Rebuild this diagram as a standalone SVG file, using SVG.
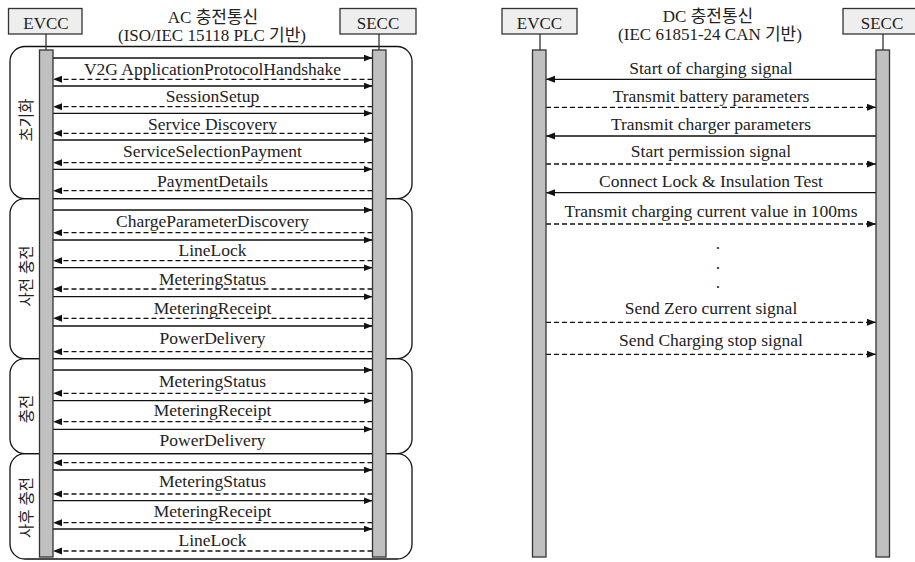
<svg xmlns="http://www.w3.org/2000/svg" width="915" height="562" viewBox="0 0 915 562">
<style>
  text { font-family: "Liberation Serif", "Noto Sans CJK KR", serif; fill: #222; }
  .lbl { font-size: 17.5px; text-anchor: middle; }
  .ttl { font-size: 17px; text-anchor: middle; }
  .box { fill: #eeeeee; stroke: #333; stroke-width: 1.3; }
  .stem { stroke: #333; stroke-width: 1.3; }
  .bar { fill: #c0c0c0; stroke: #333; stroke-width: 1.3; }
  .phase { fill: none; stroke: #111; stroke-width: 1.3; }
  .ph { font-size: 15.5px; text-anchor: middle; }
  .sol { stroke: #111; stroke-width: 1.3; fill: none; marker-end: url(#ah); }
  .das { stroke: #111; stroke-width: 1.3; fill: none; stroke-dasharray: 5 3; marker-end: url(#ah); }
</style>
<defs>
  <marker id="ah" markerUnits="userSpaceOnUse" markerWidth="10" markerHeight="8" refX="9" refY="3.5" orient="auto">
    <path d="M0,0 L9,3.5 L0,7 z" fill="#111"/>
  </marker>
</defs>
<rect width="915" height="562" fill="#ffffff"/>

<!-- Titles -->
<g id="title-ac">
  <text class="ttl" x="213" y="22.5">AC 충전통신</text>
  <text class="ttl" x="212" y="40.5">(ISO/IEC 15118 PLC 기반)</text>
</g>
<g id="title-dc">
  <text class="ttl" x="708" y="22">DC 충전통신</text>
  <text class="ttl" x="710" y="40">(IEC 61851-24 CAN 기반)</text>
</g>

<!-- Phase boxes -->
<g id="phase-init">
  <rect class="phase" x="10" y="46.5" width="402" height="152.2" rx="15" ry="15"/>
  <text class="ph" transform="translate(27,120) rotate(-90)" dy="0.35em">초기화</text>
</g>
<g id="phase-pre">
  <rect class="phase" x="10" y="198.7" width="402" height="160" rx="15" ry="15"/>
  <text class="ph" transform="translate(27,276) rotate(-90)" dy="0.35em">사전 충전</text>
</g>
<g id="phase-charge">
  <rect class="phase" x="10" y="358.7" width="402" height="95" rx="15" ry="15"/>
  <text class="ph" transform="translate(27,409) rotate(-90)" dy="0.35em">충전</text>
</g>
<g id="phase-post">
  <rect class="phase" x="10" y="453.7" width="402" height="105.3" rx="15" ry="15"/>
  <text class="ph" transform="translate(27,507.5) rotate(-90)" dy="0.35em">사후 충전</text>
</g>

<!-- Connectors -->
<g id="connectors">
  <!-- AC -->
  <line class="sol" x1="53" y1="58" x2="372.5" y2="58"/>
  <line class="das" x1="372.5" y1="79.3" x2="53" y2="79.3"/>
  <line class="sol" x1="53" y1="86" x2="372.5" y2="86"/>
  <line class="das" x1="372.5" y1="106.7" x2="53" y2="106.7"/>
  <line class="sol" x1="53" y1="113.3" x2="372.5" y2="113.3"/>
  <line class="das" x1="372.5" y1="133.3" x2="53" y2="133.3"/>
  <line class="sol" x1="53" y1="140" x2="372.5" y2="140"/>
  <line class="das" x1="372.5" y1="162.7" x2="53" y2="162.7"/>
  <line class="sol" x1="53" y1="169.3" x2="372.5" y2="169.3"/>
  <line class="das" x1="372.5" y1="190.7" x2="53" y2="190.7"/>

  <line class="sol" x1="53" y1="210" x2="372.5" y2="210"/>
  <line class="das" x1="372.5" y1="232.7" x2="53" y2="232.7"/>
  <line class="sol" x1="53" y1="240" x2="372.5" y2="240"/>
  <line class="das" x1="372.5" y1="260.7" x2="53" y2="260.7"/>
  <line class="sol" x1="53" y1="267.7" x2="372.5" y2="267.7"/>
  <line class="das" x1="372.5" y1="289" x2="53" y2="289"/>
  <line class="sol" x1="53" y1="296.7" x2="372.5" y2="296.7"/>
  <line class="das" x1="372.5" y1="318.3" x2="53" y2="318.3"/>
  <line class="sol" x1="53" y1="326" x2="372.5" y2="326"/>
  <line class="das" x1="372.5" y1="351.7" x2="53" y2="351.7"/>

  <line class="sol" x1="53" y1="370" x2="372.5" y2="370"/>
  <line class="das" x1="372.5" y1="393.3" x2="53" y2="393.3"/>
  <line class="sol" x1="53" y1="400.7" x2="372.5" y2="400.7"/>
  <line class="das" x1="372.5" y1="421.7" x2="53" y2="421.7"/>
  <line class="sol" x1="53" y1="429.3" x2="372.5" y2="429.3"/>
  <line class="das" x1="372.5" y1="462.7" x2="53" y2="462.7"/>

  <line class="sol" x1="53" y1="470" x2="372.5" y2="470"/>
  <line class="das" x1="372.5" y1="494" x2="53" y2="494"/>
  <line class="sol" x1="53" y1="500.7" x2="372.5" y2="500.7"/>
  <line class="das" x1="372.5" y1="522.7" x2="53" y2="522.7"/>
  <line class="sol" x1="53" y1="529" x2="372.5" y2="529"/>
  <line class="das" x1="372.5" y1="551" x2="53" y2="551"/>

  <!-- DC -->
  <line class="sol" x1="876" y1="79.3" x2="546" y2="79.3"/>
  <line class="das" x1="546" y1="107.3" x2="876" y2="107.3"/>
  <line class="sol" x1="876" y1="136" x2="546" y2="136"/>
  <line class="das" x1="546" y1="164" x2="876" y2="164"/>
  <line class="sol" x1="876" y1="192.7" x2="546" y2="192.7"/>
  <line class="das" x1="546" y1="224" x2="876" y2="224"/>
  <line class="das" x1="546" y1="322.3" x2="876" y2="322.3"/>
  <line class="das" x1="546" y1="354.3" x2="876" y2="354.3"/>

  <!-- AC labels -->
  <text class="lbl" x="212.5" y="75">V2G ApplicationProtocolHandshake</text>
  <text class="lbl" x="212.5" y="101.7">SessionSetup</text>
  <text class="lbl" x="212.5" y="130">Service Discovery</text>
  <text class="lbl" x="212.5" y="156.7">ServiceSelectionPayment</text>
  <text class="lbl" x="212.5" y="187.3">PaymentDetails</text>
  <text class="lbl" x="212.5" y="227.3">ChargeParameterDiscovery</text>
  <text class="lbl" x="212.5" y="255.7">LineLock</text>
  <text class="lbl" x="212.5" y="285">MeteringStatus</text>
  <text class="lbl" x="212.5" y="314">MeteringReceipt</text>
  <text class="lbl" x="212.5" y="344">PowerDelivery</text>
  <text class="lbl" x="212.5" y="387.3">MeteringStatus</text>
  <text class="lbl" x="212.5" y="415.7">MeteringReceipt</text>
  <text class="lbl" x="212.5" y="445.7">PowerDelivery</text>
  <text class="lbl" x="212.5" y="486.7">MeteringStatus</text>
  <text class="lbl" x="212.5" y="516.7">MeteringReceipt</text>
  <text class="lbl" x="212.5" y="546">LineLock</text>

  <!-- DC labels -->
  <text class="lbl" x="711" y="74">Start of charging signal</text>
  <text class="lbl" x="711" y="101.7">Transmit battery parameters</text>
  <text class="lbl" x="711" y="130">Transmit charger parameters</text>
  <text class="lbl" x="711" y="157.3">Start permission signal</text>
  <text class="lbl" x="711" y="186.7">Connect Lock &amp; Insulation Test</text>
  <text class="lbl" x="711" y="216.7">Transmit charging current value in 100ms</text>
  <text class="lbl" x="718" y="249">.</text>
  <text class="lbl" x="718" y="269">.</text>
  <text class="lbl" x="718" y="287.5">.</text>
  <text class="lbl" x="711" y="314">Send Zero current signal</text>
  <text class="lbl" x="711" y="346">Send Charging stop signal</text>
</g>

<!-- Lifelines -->
<g id="evcc-ac">
  <rect class="box" x="8.5" y="8.5" width="73.5" height="25.5"/>
  <text class="ttl" x="46" y="29">EVCC</text>
  <line class="stem" x1="46" y1="34" x2="46" y2="50"/>
  <rect class="bar" x="39.5" y="50" width="13.5" height="507"/>
</g>
<g id="secc-ac">
  <rect class="box" x="340" y="8.5" width="76" height="25.5"/>
  <text class="ttl" x="378" y="29">SECC</text>
  <line class="stem" x1="379" y1="34" x2="379" y2="50"/>
  <rect class="bar" x="372.5" y="50" width="13.5" height="507"/>
</g>
<g id="evcc-dc">
  <rect class="box" x="502" y="8.5" width="75" height="25.5"/>
  <text class="ttl" x="539.5" y="29">EVCC</text>
  <line class="stem" x1="540" y1="34" x2="540" y2="50"/>
  <rect class="bar" x="532.5" y="50" width="13.5" height="507"/>
</g>
<g id="secc-dc">
  <rect class="box" x="843" y="8.5" width="76" height="25.5"/>
  <text class="ttl" x="882" y="29">SECC</text>
  <line class="stem" x1="883" y1="34" x2="883" y2="50"/>
  <rect class="bar" x="876" y="50" width="13.5" height="507"/>
</g>
</svg>
